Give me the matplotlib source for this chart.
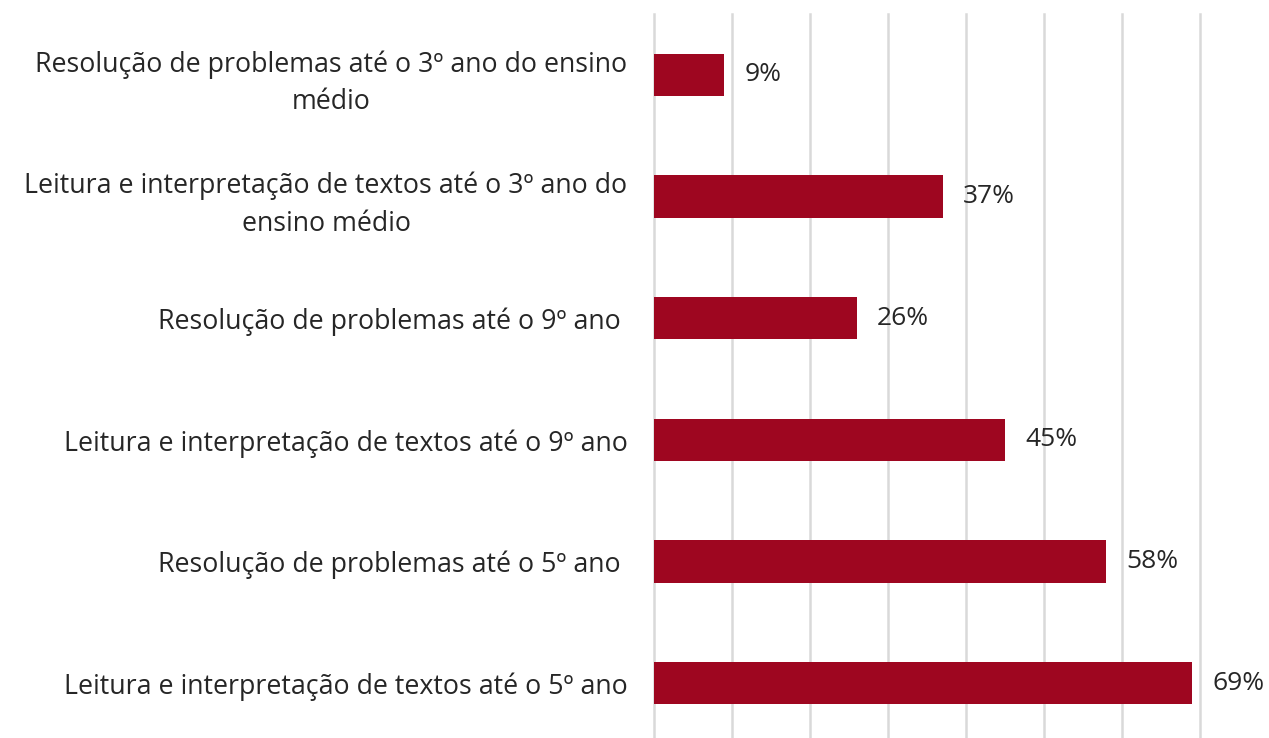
import matplotlib
matplotlib.use("Agg")
import matplotlib.pyplot as plt
from matplotlib.ticker import MultipleLocator

categories = [
    "Leitura e interpretação de textos até o 5º ano",
    "Resolução de problemas até o 5º ano ",
    "Leitura e interpretação de textos até o 9º ano",
    "Resolução de problemas até o 9º ano ",
    "Leitura e interpretação de textos até o 3º ano do\nensino médio",
    "Resolução de problemas até o 3º ano do ensino\nmédio",
]
values = [69, 58, 45, 26, 37, 9]

plt.rcParams["font.family"] = ["Open Sans", "DejaVu Sans"]
text_color = "#262626"

fig = plt.figure(figsize=(12.69, 7.38), dpi=100)
ax = fig.add_axes([654 / 1269, -6 / 738, (1200 - 654) / 1269, 730 / 738])

pos = range(len(categories))
ax.barh(pos, values, height=0.35, color="#9E0620")
for y, v in zip(pos, values):
    ax.text(v + 2.6, y, f"{v}%", va="center", ha="left", fontsize=19, color=text_color)

ax.set_yticks(list(pos))
ax.set_yticklabels(categories, fontsize=19.3, color=text_color, ha="right",
                   multialignment="center", linespacing=1.45)
ax.tick_params(axis="y", length=0, pad=19)
ax.set_ylim(-0.5, len(categories) - 0.5)
ax.set_xlim(0, 70)
ax.xaxis.set_major_locator(MultipleLocator(10))
ax.set_xticklabels([])
ax.tick_params(axis="x", length=0)
ax.grid(axis="x", color="#D9D9D9", linewidth=1.8)
ax.set_axisbelow(True)
for gl in ax.get_xgridlines():
    gl.set_clip_on(False)
for s in ax.spines.values():
    s.set_visible(False)

fig.savefig("out.png", dpi=100)
